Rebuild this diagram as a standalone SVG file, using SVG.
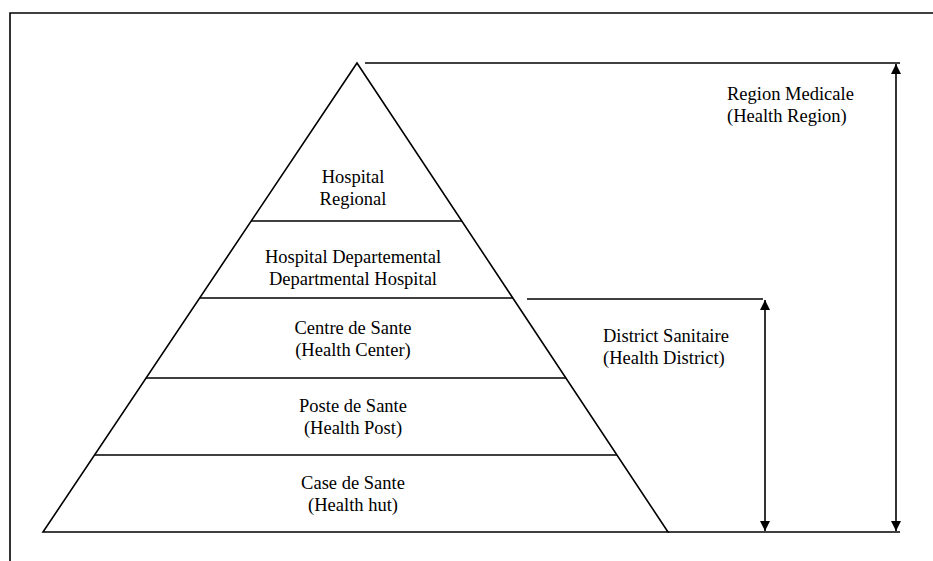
<svg xmlns="http://www.w3.org/2000/svg" width="933" height="561" viewBox="0 0 933 561">
<style>
.ln{stroke:#000;stroke-width:1.6;fill:none}
.t{font-family:"Liberation Serif","Times New Roman",serif;font-size:18.5px;fill:#000}
.c{text-anchor:middle}
</style>
<defs>
<marker id="ah" markerWidth="10" markerHeight="10" refX="10" refY="5" orient="auto" markerUnits="userSpaceOnUse">
<path d="M0,0 L10,5 L0,10 Z" fill="#000"/>
</marker>
</defs>
<rect width="933" height="561" fill="#fff"/>
<g id="frame">
<path class="ln" d="M933,13 L10,13 L10,561"/>
</g>
<g id="pyramid">
<path class="ln" d="M357,63 L43,532 L668,532 Z"/>
<line class="ln" x1="251" y1="221" x2="462" y2="221"/>
<line class="ln" x1="200" y1="298" x2="513" y2="298"/>
<line class="ln" x1="146" y1="378" x2="566" y2="378"/>
<line class="ln" x1="95" y1="455" x2="617" y2="455"/>
</g>
<g id="n-hospital-regional">
<text class="t c" x="353" y="183">Hospital</text>
<text class="t c" x="353" y="205">Regional</text>
</g>
<g id="n-hospital-departemental">
<text class="t c" x="353" y="263">Hospital Departemental</text>
<text class="t c" x="353" y="285">Departmental Hospital</text>
</g>
<g id="n-centre-sante">
<text class="t c" x="353" y="334">Centre de Sante</text>
<text class="t c" x="353" y="356">(Health Center)</text>
</g>
<g id="n-poste-sante">
<text class="t c" x="353" y="412">Poste de Sante</text>
<text class="t c" x="353" y="434">(Health Post)</text>
</g>
<g id="n-case-sante">
<text class="t c" x="353" y="489">Case de Sante</text>
<text class="t c" x="353" y="511">(Health hut)</text>
</g>
<g id="n-region-medicale">
<text class="t" x="727" y="100">Region Medicale</text>
<text class="t" x="727" y="122">(Health Region)</text>
</g>
<g id="n-district-sanitaire">
<text class="t" x="603" y="342">District Sanitaire</text>
<text class="t" x="603" y="364">(Health District)</text>
</g>
<g id="connectors">
<line class="ln" x1="365" y1="63" x2="900" y2="63"/>
<line class="ln" x1="668" y1="532" x2="900" y2="532"/>
<line class="ln" x1="527" y1="299" x2="763" y2="299"/>
<line class="ln" x1="896" y1="298" x2="896" y2="64" marker-end="url(#ah)"/>
<line class="ln" x1="896" y1="298" x2="896" y2="531" marker-end="url(#ah)"/>
<line class="ln" x1="765" y1="416" x2="765" y2="300" marker-end="url(#ah)"/>
<line class="ln" x1="765" y1="416" x2="765" y2="531" marker-end="url(#ah)"/>
</g>
</svg>
